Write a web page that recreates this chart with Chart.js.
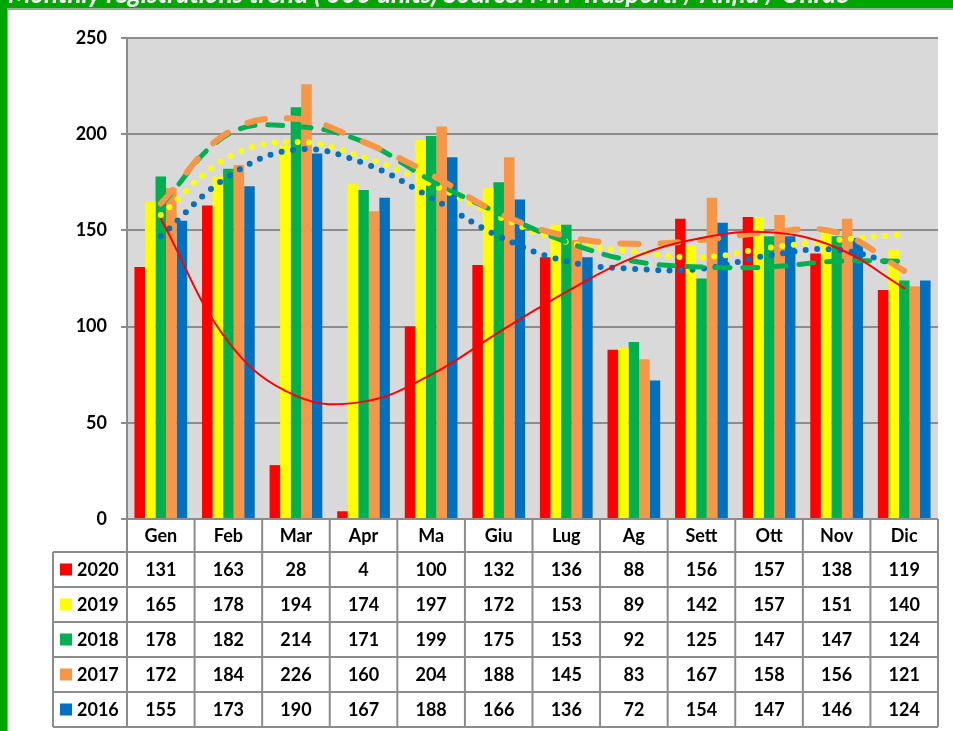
<!DOCTYPE html>
<html>
<head>
<meta charset="utf-8">
<title>Monthly registrations trend</title>
<script src="https://cdn.jsdelivr.net/npm/chart.js@4.4.0/dist/chart.umd.min.js"></script>
<style>
  html, body { margin: 0; padding: 0; background: #fff; overflow: hidden; }
  #wrap { width: 953px; height: 731px; position: relative; }
</style>
</head>
<body>
<div id="wrap"><canvas id="chart"></canvas></div>
<script>
/* ── Dati ── */
var TITLE  = "Monthly registrations trend ('000 units) Source: MIT Trasporti / Anfia / Unrae";
var MONTHS = [ 'Gen', 'Feb', 'Mar', 'Apr', 'Ma', 'Giu', 'Lug', 'Ag', 'Sett', 'Ott', 'Nov', 'Dic' ];
var YEARS  = [ '2020', '2019', '2018', '2017', '2016' ];
var Y_TICKS = [ 0, 50, 100, 150, 200, 250 ];

var v2020 = [ 131, 163, 28, 4, 100, 132, 136, 88, 156, 157, 138, 119 ];
var v2019 = [ 165, 178, 194, 174, 197, 172, 153, 89, 142, 157, 151, 140 ];
var v2018 = [ 178, 182, 214, 171, 199, 175, 153, 92, 125, 147, 147, 124 ];
var v2017 = [ 172, 184, 226, 160, 204, 188, 145, 83, 167, 158, 156, 121 ];
var v2016 = [ 155, 173, 190, 167, 188, 166, 136, 72, 154, 147, 146, 124 ];

// linee di tendenza (polinomiali in Excel)
var t2020 = [ 156, 92, 64, 61, 75, 97, 118, 136, 146, 149, 141, 120 ];
var t2019 = [ 158, 188, 196, 188, 174, 157, 144, 139, 136, 141, 145, 148 ];
var t2018 = [ 163, 200, 204, 196, 176, 159, 144, 134, 131, 131, 134, 134 ];
var t2017 = [ 164, 201, 208, 196, 179, 159, 147, 143, 145, 149, 149, 129 ];
var t2016 = [ 147, 178, 192, 185, 167, 147, 134, 130, 130, 137, 140, 131 ];

( function () {
    'use strict';

    var COLORS = [ '#ff0000', '#ffff00', '#00b050', '#f79646', '#0070c0' ];
    var VALUES = [ v2020, v2019, v2018, v2017, v2016 ];
    var GRID   = '#8c8c8c';
    var FONT   = 'Lato, "Open Sans", sans-serif';

    /* ── Cornice verde, titolo, sfondo area ── */
    var framePlugin = {
        id: 'frame',
        beforeDraw: function ( chart ) {
            var ctx = chart.ctx, a = chart.chartArea;
            var W = chart.width, H = chart.height;
            ctx.save();
            ctx.fillStyle = '#ffffff';
            ctx.fillRect( 0, 0, W, H );
            // solo bordo sinistro e fascia del titolo
            ctx.fillStyle = '#00a600';
            ctx.fillRect( 0, 0, W, 8.5 );
            ctx.fillRect( 0, 0, 7, H );
            ctx.fillStyle = '#a0a0a0';
            ctx.fillRect( 7, 8.5, W - 7, 1.5 );
            ctx.fillRect( 7, 8.5, 1, H - 8.5 );

            // titolo tagliato dal bordo superiore come nell'originale
            ctx.save();
            ctx.beginPath();
            ctx.rect( 0, 0, W, 8.5 );
            ctx.clip();
            ctx.fillStyle = '#ffffff';
            ctx.font = 'italic bold 26px ' + FONT;
            ctx.textBaseline = 'alphabetic';
            ctx.fillText( TITLE, 8, 2.5 );
            ctx.restore();

            ctx.fillStyle = '#d9d9d9';
            ctx.fillRect( a.left, a.top, a.right - a.left, a.bottom - a.top );
            ctx.restore();
        },
        /* Tabella dati sotto il grafico */
        afterDraw: function ( chart ) {
            var ctx = chart.ctx, a = chart.chartArea;
            var w = ( a.right - a.left ) / MONTHS.length;
            var headTop = a.bottom, headBot = a.bottom + 33, rowH = 35;
            var legLeft = 53;
            var tableBot = headBot + rowH * YEARS.length;
            var i, r, x, y;

            ctx.save();
            ctx.strokeStyle = GRID;
            ctx.lineWidth = 2;
            ctx.beginPath();
            for ( i = 0; i <= MONTHS.length; i++ ) {
                x = a.left + i * w;
                ctx.moveTo( x, headTop );
                ctx.lineTo( x, tableBot );
            }
            ctx.moveTo( legLeft, headBot );
            ctx.lineTo( legLeft, tableBot );
            for ( r = 0; r <= YEARS.length; r++ ) {
                y = headBot + r * rowH;
                ctx.moveTo( legLeft, y );
                ctx.lineTo( a.right, y );
            }
            ctx.stroke();

            ctx.fillStyle = '#000';
            ctx.font = 'bold 18px ' + FONT;
            ctx.textAlign = 'center';
            ctx.textBaseline = 'middle';
            for ( i = 0; i < MONTHS.length; i++ ) {
                ctx.fillText( MONTHS[ i ], a.left + ( i + 0.5 ) * w, ( headTop + headBot ) / 2 + 1 );
            }
            for ( r = 0; r < YEARS.length; r++ ) {
                y = headBot + ( r + 0.5 ) * rowH + 1;
                ctx.fillStyle = COLORS[ r ];
                ctx.fillRect( 60, y - 7, 12, 12 );
                ctx.fillStyle = '#000';
                ctx.textAlign = 'left';
                ctx.fillText( YEARS[ r ], 77, y );
                ctx.textAlign = 'center';
                for ( i = 0; i < MONTHS.length; i++ ) {
                    ctx.fillText( String( VALUES[ r ][ i ] ), a.left + ( i + 0.5 ) * w, y );
                }
            }
            ctx.restore();
        }
    };

    function barSet( label, data, color ) {
        return {
            type: 'bar', label: label, data: data, order: 10,
            backgroundColor: color, borderWidth: 0,
            categoryPercentage: 0.78, barPercentage: 1.0
        };
    }

    function trendSet( label, data, color, width, dash, order ) {
        return {
            type: 'line', label: label, data: data, order: order,
            borderColor: color, borderWidth: width, borderDash: dash,
            borderCapStyle: 'round', fill: false, tension: 0.4,
            pointRadius: 0, pointHoverRadius: 0
        };
    }

    new Chart( document.getElementById( 'chart' ), {
        data: {
            labels: MONTHS,
            datasets: [
                barSet( '2020', v2020, COLORS[ 0 ] ),
                barSet( '2019', v2019, COLORS[ 1 ] ),
                barSet( '2018', v2018, COLORS[ 2 ] ),
                barSet( '2017', v2017, COLORS[ 3 ] ),
                barSet( '2016', v2016, COLORS[ 4 ] ),
                trendSet( 'Tend. 2020', t2020, COLORS[ 0 ], 2, [], 0 ),
                trendSet( 'Tend. 2019', t2019, COLORS[ 1 ], 6, [ 0, 11.5 ], 3 ),
                trendSet( 'Tend. 2016', t2016, COLORS[ 4 ], 6, [ 0, 11.5 ], 4 ),
                trendSet( 'Tend. 2018', t2018, COLORS[ 2 ], 5, [ 15, 13 ], 2 ),
                trendSet( 'Tend. 2017', t2017, COLORS[ 3 ], 6, [ 18, 22 ], 1 )
            ]
        },
        options: {
            responsive: true,
            maintainAspectRatio: false,
            animation: false,
            layout: { padding: { left: 0, right: 15, top: 38, bottom: 212 } },
            plugins: { legend: { display: false }, tooltip: { enabled: false } },
            scales: {
                x: { display: false, offset: true },
                y: {
                    min: 0, max: 250,
                    afterFit: function ( scale ) { scale.width = 127; },
                    afterBuildTicks: function ( scale ) {
                        scale.ticks = Y_TICKS.map( function ( v ) { return { value: v }; } );
                    },
                    grid: { color: GRID, lineWidth: 2, tickLength: 6, tickColor: GRID },
                    border: { color: GRID, width: 2 },
                    ticks: { color: '#000', padding: 14, font: { family: FONT, size: 18, weight: 'bold' } }
                }
            }
        },
        plugins: [ framePlugin ]
    } );
}() );
</script>
</body>
</html>
